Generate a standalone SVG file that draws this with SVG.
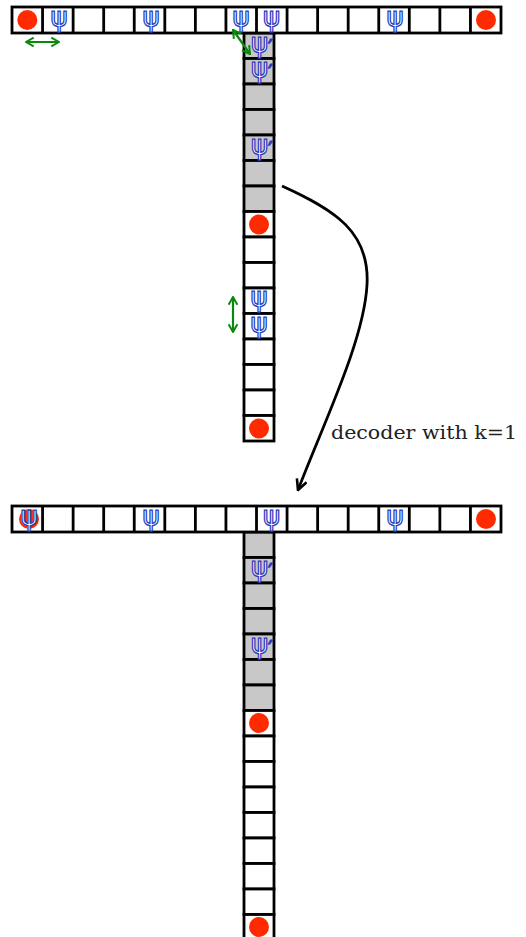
<svg xmlns="http://www.w3.org/2000/svg" width="526" height="937" viewBox="0 0 526 937">
<defs>
<style>
.cell{fill:#fff;stroke:#000;stroke-width:2.8}
.g{fill:#c8c8c8;stroke:#000;stroke-width:2.8}
.dot{fill:#ff2a00}
.psi{font-family:'DejaVu Sans',sans-serif;font-size:26px;fill:#fff;stroke:#2a3dbf;stroke-width:1.25;text-anchor:middle}
.pr{font-family:'DejaVu Serif',serif;font-size:22px}
.ga{stroke:#0a8a0a;stroke-width:2.2;fill:none;marker-start:url(#gh);marker-end:url(#gh)}
</style>
<marker id="gh" viewBox="0 0 10 10" refX="9" refY="5" markerWidth="5" markerHeight="5" orient="auto-start-reverse" markerUnits="strokeWidth">
<path d="M2,1 L9,5 L2,9" fill="none" stroke="#0a8a0a" stroke-width="1.8"/>
</marker>
<marker id="bh" viewBox="0 0 10 10" refX="9" refY="5" markerWidth="13" markerHeight="13" orient="auto" markerUnits="userSpaceOnUse">
<path d="M1,1 L9,5 L1,9" fill="none" stroke="#000" stroke-width="2"/>
</marker>
</defs>
<rect width="526" height="937" fill="#fff"/>

<!-- TOP FIGURE -->
<g id="top-column">
<rect class="g" x="244" y="33" width="30" height="25.5"/>
<rect class="g" x="244" y="58.5" width="30" height="25.5"/>
<rect class="g" x="244" y="84" width="30" height="25.5"/>
<rect class="g" x="244" y="109.5" width="30" height="25.5"/>
<rect class="g" x="244" y="135" width="30" height="25.5"/>
<rect class="g" x="244" y="160.5" width="30" height="25.5"/>
<rect class="g" x="244" y="186" width="30" height="25.5"/>
<rect class="cell" x="244" y="211.5" width="30" height="25.5"/>
<rect class="cell" x="244" y="237" width="30" height="25.5"/>
<rect class="cell" x="244" y="262.5" width="30" height="25.5"/>
<rect class="cell" x="244" y="288" width="30" height="25.5"/>
<rect class="cell" x="244" y="313.5" width="30" height="25.5"/>
<rect class="cell" x="244" y="339" width="30" height="25.5"/>
<rect class="cell" x="244" y="364.5" width="30" height="25.5"/>
<rect class="cell" x="244" y="390" width="30" height="25.5"/>
<rect class="cell" x="244" y="415.5" width="30" height="25.5"/>
<text class="psi" x="262" y="52">ψ<tspan class="pr" dy="3">′</tspan></text>
<text class="psi" x="262" y="77">ψ<tspan class="pr" dy="3">′</tspan></text>
<text class="psi" x="262" y="154">ψ<tspan class="pr" dy="3">′</tspan></text>
<circle class="dot" cx="259" cy="224.5" r="10"/>
<text class="psi" x="259" y="306">ψ</text>
<text class="psi" x="259" y="332">ψ</text>
<circle class="dot" cx="259" cy="428.5" r="10"/>
</g>

<g id="top-row">
<rect class="cell" x="12" y="7" width="489" height="26"/>
<path class="cell" d="M42.56,7V33M73.13,7V33M103.69,7V33M134.25,7V33M164.81,7V33M195.38,7V33M225.94,7V33M256.5,7V33M287.06,7V33M317.63,7V33M348.19,7V33M378.75,7V33M409.31,7V33M439.88,7V33M470.44,7V33"/>
<circle class="dot" cx="27.3" cy="20" r="10"/>
<text class="psi" x="59" y="26">ψ</text>
<text class="psi" x="151" y="26">ψ</text>
<text class="psi" x="241" y="26">ψ</text>
<text class="psi" x="271.5" y="26">ψ</text>
<text class="psi" x="395" y="26">ψ</text>
<circle class="dot" cx="486" cy="20" r="10"/>
</g>

<g id="connectors">
<line class="ga" x1="26" y1="42" x2="59" y2="42"/>
<line class="ga" x1="233" y1="30" x2="250" y2="54"/>
<line class="ga" x1="233" y1="297" x2="233" y2="332"/>
<path d="M282,186 C335,210 370,232 367,285 C364,340 325,420 298,490" fill="none" stroke="#000" stroke-width="2.8" marker-end="url(#bh)"/>
</g>

<g id="label">
<text x="331" y="439" font-family="'DejaVu Serif', serif" font-size="19" fill="#222" textLength="186" lengthAdjust="spacingAndGlyphs">decoder with k=1</text>
</g>

<!-- BOTTOM FIGURE -->
<g id="bottom-column">
<rect class="g" x="244" y="532" width="30" height="25.5"/>
<rect class="g" x="244" y="557.5" width="30" height="25.5"/>
<rect class="g" x="244" y="583" width="30" height="25.5"/>
<rect class="g" x="244" y="608.5" width="30" height="25.5"/>
<rect class="g" x="244" y="634" width="30" height="25.5"/>
<rect class="g" x="244" y="659.5" width="30" height="25.5"/>
<rect class="g" x="244" y="685" width="30" height="25.5"/>
<rect class="cell" x="244" y="710.5" width="30" height="25.5"/>
<rect class="cell" x="244" y="736" width="30" height="25.5"/>
<rect class="cell" x="244" y="761.5" width="30" height="25.5"/>
<rect class="cell" x="244" y="787" width="30" height="25.5"/>
<rect class="cell" x="244" y="812.5" width="30" height="25.5"/>
<rect class="cell" x="244" y="838" width="30" height="25.5"/>
<rect class="cell" x="244" y="863.5" width="30" height="25.5"/>
<rect class="cell" x="244" y="889" width="30" height="25.5"/>
<rect class="cell" x="244" y="914.5" width="30" height="25.5"/>
<text class="psi" x="262" y="576">ψ<tspan class="pr" dy="3">′</tspan></text>
<text class="psi" x="262" y="653">ψ<tspan class="pr" dy="3">′</tspan></text>
<circle class="dot" cx="259" cy="723" r="10"/>
<circle class="dot" cx="259" cy="927" r="10"/>
</g>

<g id="bottom-row">
<rect class="cell" x="12" y="506" width="489" height="26"/>
<path class="cell" d="M42.56,506V532M73.13,506V532M103.69,506V532M134.25,506V532M164.81,506V532M195.38,506V532M225.94,506V532M256.5,506V532M287.06,506V532M317.63,506V532M348.19,506V532M378.75,506V532M409.31,506V532M439.88,506V532M470.44,506V532"/>
<circle class="dot" cx="29" cy="519" r="10"/>
<text class="psi" x="29" y="525">ψ</text>
<text class="psi" x="151" y="525">ψ</text>
<text class="psi" x="271.5" y="525">ψ</text>
<text class="psi" x="395" y="525">ψ</text>
<circle class="dot" cx="486" cy="519" r="10"/>
</g>
</svg>
